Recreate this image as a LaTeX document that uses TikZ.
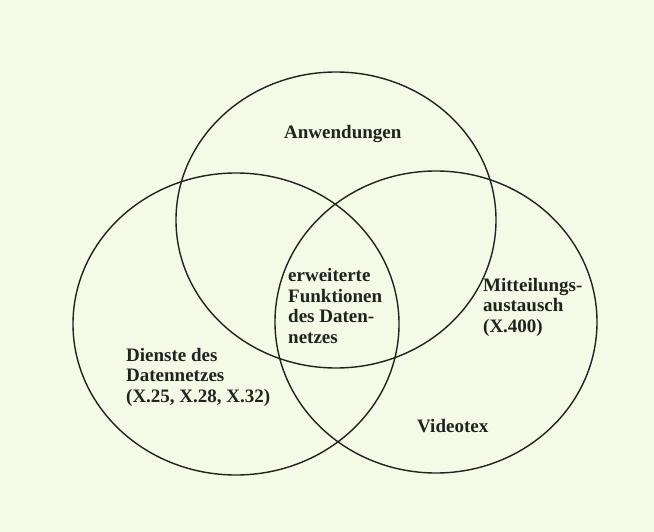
\documentclass[tikz,border=0pt]{standalone}
\usepackage{fontspec}
\setmainfont{Liberation Serif}
\definecolor{paper}{RGB}{244,250,230}
\definecolor{ink}{RGB}{30,36,30}
\begin{document}
\begin{tikzpicture}[x=1pt,y=-1pt,
  ring/.style={draw=ink,line width=1.4pt},
  label/.style={anchor=base west,inner sep=0pt,align=left,text=ink,
    font=\fontsize{19}{20.5}\selectfont\bfseries}]
  % page
  \fill[paper] (0,0) rectangle (654,532);
  \useasboundingbox (0,0) rectangle (654,532);
  % the three overlapping areas
  \draw[ring] (336,220) ellipse [x radius=160, y radius=148];
  \draw[ring] (236,324) ellipse [x radius=163, y radius=151];
  \draw[ring] (436,322) ellipse [x radius=161, y radius=151];
  % texts (base anchor sits on the last line)
  \node[label] (app) at (284,139) {Anwendungen};
  \node[label] (core) at (288,343) {erweiterte\\Funktionen\\des Daten-\\netzes};
  \node[label] (net) at (126,402) {Dienste des\\Datennetzes\\(X.25, X.28, X.32)};
  \node[label] (msg) at (483,332) {Mitteilungs-\\austausch\\(X.400)};
  \node[label] (vtx) at (417,432) {Videotex};
\end{tikzpicture}
\end{document}
